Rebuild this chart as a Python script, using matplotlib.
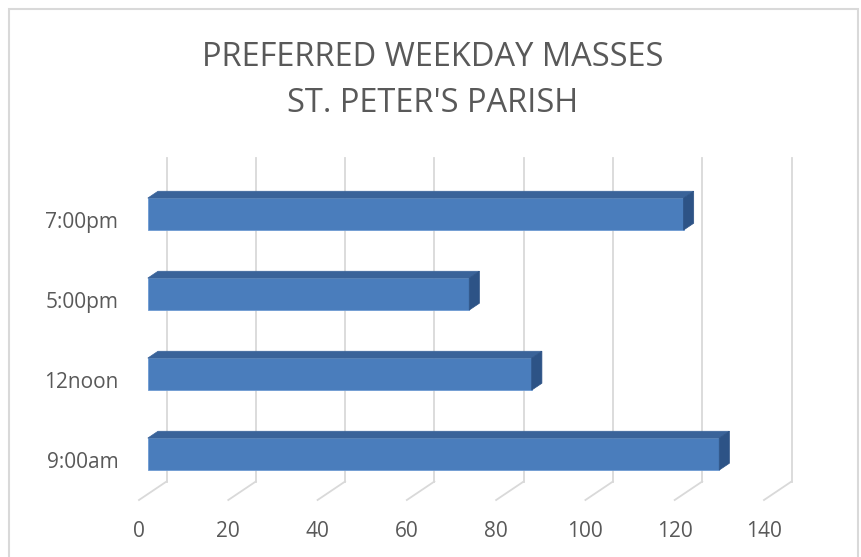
import matplotlib
matplotlib.use("Agg")
import matplotlib.pyplot as plt
from matplotlib.patches import Polygon, Rectangle
import numpy as np

categories = ["9:00am", "12noon", "5:00pm", "7:00pm"]
values = [128, 86, 72, 120]
xticks = [0, 20, 40, 60, 80, 100, 120, 140]
title_lines = ["PREFERRED WEEKDAY MASSES", "ST. PETER'S PARISH"]

W, H = 861, 557
fig = plt.figure(figsize=(W / 100, H / 100), dpi=100)
fig.patch.set_facecolor("white")

# plot (front plane) region in pixels
left_px, right_px = 139, 764
bot_px, top_px = 500, 180
ax = fig.add_axes([left_px / W, 1 - bot_px / H, (right_px - left_px) / W, (bot_px - top_px) / H])
ax.set_xlim(0, 140)
ax.set_ylim(-0.5, 3.5)
for s in ax.spines.values():
    s.set_visible(False)
ax.patch.set_alpha(0)

# oblique depth vector (data units)
DX, DY = 6.16, 0.231
wall_top = 3.55
grid_c = "#d9d9d9"
txt_c = "#595959"

for v in xticks:
    ax.plot([v + DX, v + DX], [-0.5 + DY, wall_top + DY], color=grid_c, lw=1.3, zorder=1, clip_on=False)
    ax.plot([v, v + DX], [-0.5, -0.5 + DY], color=grid_c, lw=1.3, zorder=1, clip_on=False)

bh = 0.4
d0, d1 = 0.32, 0.69
front_c = "#4A7DBC"
top_c = "#3A6399"
side_c = "#2D5386"
for i, v in enumerate(values):
    x0 = d0 * DX
    y0 = i - bh / 2 + d0 * DY
    ddx = (d1 - d0) * DX
    ddy = (d1 - d0) * DY
    # front face
    ax.add_patch(Rectangle((x0, y0), v, bh, facecolor=front_c, edgecolor="#6E9BD3", lw=0.6, zorder=3, clip_on=False))
    # top face
    ax.add_patch(Polygon([(x0, y0 + bh), (x0 + v, y0 + bh), (x0 + v + ddx, y0 + bh + ddy), (x0 + ddx, y0 + bh + ddy)],
                         closed=True, facecolor=top_c, edgecolor=top_c, lw=0.5, zorder=3, clip_on=False))
    # side face
    ax.add_patch(Polygon([(x0 + v, y0), (x0 + v + ddx, y0 + ddy), (x0 + v + ddx, y0 + bh + ddy), (x0 + v, y0 + bh)],
                         closed=True, facecolor=side_c, edgecolor=side_c, lw=0.5, zorder=3, clip_on=False))

font = "Open Sans"
ax.set_xticks(xticks)
ax.set_xticklabels([str(t) for t in xticks], fontsize=15, color=txt_c, family=font)
ax.set_yticks(range(len(categories)))
ax.set_yticklabels(categories, fontsize=15, color=txt_c, family=font)
ax.tick_params(axis="x", length=0, pad=15)
ax.tick_params(axis="y", length=0, pad=15)

fig.text(433 / W, 1 - 57 / H, title_lines[0], ha="center", va="center", fontsize=23.5, color=txt_c, family=font)
fig.text(433 / W, 1 - 103 / H, title_lines[1], ha="center", va="center", fontsize=23.5, color=txt_c, family=font)

# chart border
fig.patches.append(Rectangle((9 / W, -0.05), (858 - 9) / W, 1 - 9 / H + 0.05, transform=fig.transFigure,
                             facecolor="none", edgecolor="#d9d9d9", lw=1.5))

fig.savefig("out.png", dpi=100)
